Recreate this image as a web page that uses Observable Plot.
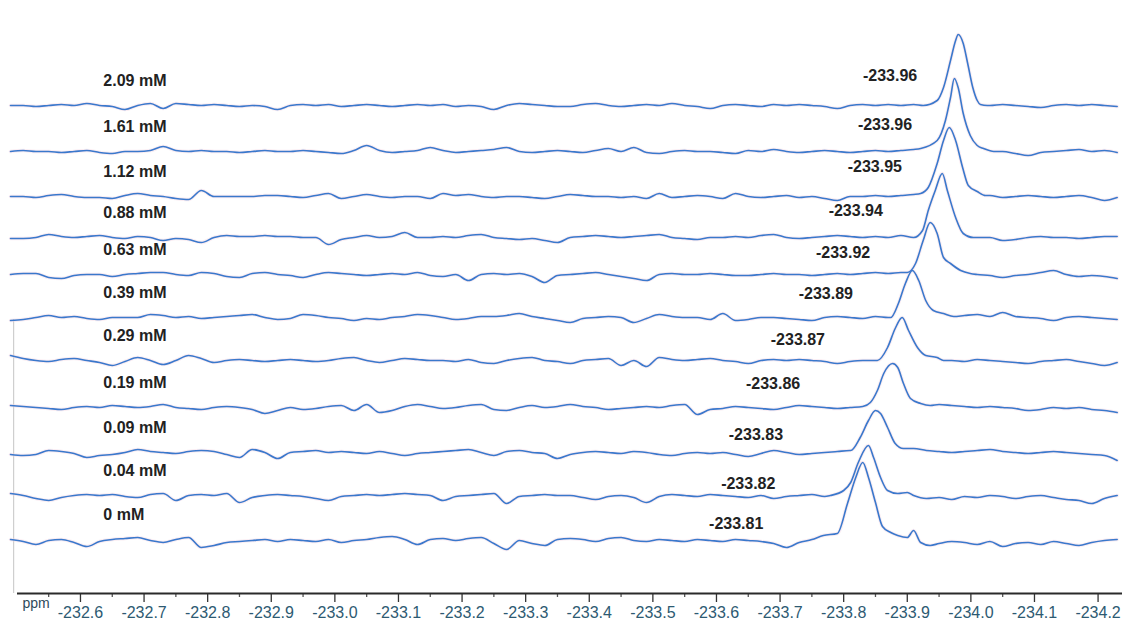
<!DOCTYPE html>
<html>
<head>
<meta charset="utf-8">
<script src="https://cdn.jsdelivr.net/npm/d3@7"></script>
<script src="https://cdn.jsdelivr.net/npm/@observablehq/plot@0.6"></script>
<style>
  html, body { margin: 0; padding: 0; background: #ffffff; }
  #chart svg { display: block; }
</style>
</head>
<body>
<div id="chart"></div>
<script>
// ---- Data -------------------------------------------------------------
const concentrations = ["2.09 mM","1.61 mM","1.12 mM","0.88 mM","0.63 mM","0.39 mM","0.29 mM","0.19 mM","0.09 mM","0.04 mM","0 mM"];
const peakShifts = ["-233.96","-233.96","-233.95","-233.94","-233.92","-233.89","-233.87","-233.86","-233.83","-233.82","-233.81"];
// vertical stacking offset of each spectrum (intensity units)
const stackOffset = [434, 388, 343, 302, 265, 222, 179, 132, 87, 44, 0];
// tick labels of the ppm axis
const majorTicks = [-232.6,-232.7,-232.8,-232.9,-233.0,-233.1,-233.2,-233.3,-233.4,-233.5,-233.6,-233.7,-233.8,-233.9,-234.0,-234.1,-234.2];

// baseline samples on a regular ppm grid (start -232.49, step -0.02), 88 points each
const gridStart = -232.49, gridStep = -0.02;
const noise209 = [0,0,-1,0,1,0,2,0,-1,-4, 0,2,-3,2,1,0,1,0,-1,0, -1,-4,0,1,0,1,-1,0,1,0, -1,0,1,0,1,-1,0,-1,-4,0, 2,1,0,-1,-1,1,2,0,-1,0, 1,0,2,0,-1,-3,0,1,0,-1, 1,0,1,0,-1,-3,0,1,0,1, 0,1,1,0,0,0,0,0,1,0, -1,-2,0,1,0,1,0,-1];
const noise161 = [0,1,0,0,-1,0,1,-1,-2,0, 0,1,5,1,0,1,0,0,-1,0, 1,0,0,1,0,-1,-2,1,6,1, -1,0,1,4,1,-1,0,1,2,4, 0,-1,0,1,0,-1,1,3,0,4, -1,-2,0,1,0,0,-1,-2,1,0, 2,0,-1,0,1,0,-1,0,1,0, 1,2,0,0,0,0,0,0,0,-2, -4,-1,0,1,2,0,1,-1];
const noise112 = [0,0,-1,1,2,0,-1,-1,-2,1, 3,1,0,-2,-3,6,0,0,0,0, 1,1,0,-1,1,3,-2,0,2,0, -1,0,0,-2,3,1,2,0,-1,0, 0,-1,-2,0,2,1,0,0,-1,0, -2,3,-1,0,1,0,-2,3,0,-1, 0,1,-1,0,-2,-4,0,0,1,0, 1,2,0,0,0,0,0,1,-1,0, 1,0,-1,0,1,-1,-4,-1];
const noise088 = [-1,-1,0,3,1,0,1,2,0,-1, 1,0,-3,-1,-2,-5,0,2,1,1, 2,1,1,0,0,-7,-2,0,2,0, 1,5,0,0,1,0,2,3,0,-1, -2,-1,-3,-5,0,1,2,1,0,1, 2,3,0,-1,-2,0,0,1,0,2, 3,0,-1,0,1,2,1,0,1,0, 2,0,0,0,0,0,0,0,-3,-2, 0,1,0,0,-1,0,1,1];
const noise063 = [0,1,1,-3,-4,-1,0,0,-2,0, 1,2,2,0,-1,2,1,-2,-3,1, 2,0,-1,-3,0,2,1,0,-1,0, 1,0,2,-1,-2,0,-6,0,1,0, 1,-2,-8,-1,0,1,2,0,-2,-4, -6,0,1,0,0,1,0,-1,-1,0, 1,0,0,-1,0,1,0,1,2,1, 2,0,0,0,0,0,0,-1,-3,-1, 0,2,4,0,-2,-1,-2,-4];
const noise039 = [-3,-2,0,2,0,1,-1,-2,0,0, 0,3,2,0,1,-1,0,1,2,3, 0,-2,-1,3,2,0,-1,-3,-1,-2, 0,1,3,2,0,-2,-1,1,1,2, 4,1,-1,-3,-5,-1,0,1,0,-5, -1,3,1,0,0,-2,4,-3,-2,0, 0,-1,-2,-3,0,1,0,-1,1,0, 0,0,0,0,0,2,3,1,5,1, 0,-1,-3,0,1,0,-1,-2];
const noise029 = [5,2,0,-1,1,2,0,-2,-5,-1, 3,0,-4,0,5,2,-2,0,1,0, -1,0,1,0,-1,0,2,3,0,-2, 0,2,1,0,0,-1,1,-2,-3,0, 2,3,0,-1,-3,0,1,2,-5,0, -6,3,1,0,1,2,0,-1,-3,0, 1,0,1,0,-1,-3,-1,0,0,0, 0,0,0,0,0,-1,1,0,-1,-2, -3,-1,0,1,-1,-3,-5,-2];
const noise019 = [2,1,0,-1,-2,0,1,0,2,1, 0,1,3,0,-1,-2,0,1,0,-2, -6,-3,0,-2,-1,1,2,-3,3,-5, -3,1,3,1,-1,0,2,3,-2,-3, 0,2,0,1,3,1,0,-2,-1,0, 1,0,2,3,-7,-2,-1,1,0,-1, -2,0,2,1,0,-1,0,1,0,0, 0,0,0,3,2,1,0,1,0,-1, -3,-2,0,-1,0,-2,-3,-5];
const noise009 = [-2,-3,-2,2,1,-1,-5,-3,-2,0, 3,1,0,-1,1,2,1,-2,-5,3, 0,-6,0,1,2,0,1,0,-1,1, -1,-3,-1,0,1,2,3,0,-3,1, 2,0,-1,-6,-2,0,1,0,-1,1, 0,-2,-3,-1,0,-1,0,-2,-4,-1, 2,0,-2,-1,0,1,2,0,0,0, 0,0,2,1,0,1,2,3,1,0, -1,0,1,0,-1,-2,-3,-8];
const noise004 = [2,0,-3,-5,-2,0,1,0,1,-1, -2,1,2,-5,0,1,0,2,-7,-2, 0,1,0,-1,-3,-5,-1,0,1,0, 1,2,1,0,-5,-1,0,1,2,-8, -1,0,1,0,0,-2,-4,-1,0,-2, -7,-1,1,0,-1,1,0,-1,-2,0, -3,-1,0,1,-1,0,0,0,0,0, 0,0,-3,-2,-4,-1,-2,0,-1,-3, -1,0,-2,-4,-5,-8,-3,0];
const noise000 = [0,-2,-5,-1,0,-3,-7,-2,0,1, 2,-1,-3,0,2,-8,-6,-3,-2,-1, 0,-2,0,-1,-2,0,-3,-1,0,2, 3,0,-5,0,1,-1,1,2,-4,-10, -1,-4,-6,0,1,0,-2,1,2,-1, -2,0,-1,-2,0,-1,-2,0,-1,-2, -4,-8,-3,0,0,0,0,0,0,0, 0,0,0,-4,-2,-3,-5,-2,-7,-4, -3,-5,-2,-4,-6,-3,-1,0];

// peak profiles: [ppm, intensity]
const peak209 = [[-233.925,0],[-233.947,5],[-233.957,18],[-233.968,45],[-233.976,65],[-233.980,71],[-233.988,62],[-233.995,42],[-234.003,18],[-234.010,5],[-234.015,1],[-234.026,0]];
const peak161 = [[-233.921,3],[-233.947,11],[-233.960,31],[-233.968,54],[-233.974,73],[-233.980,64],[-233.988,38],[-233.999,16],[-234.010,6],[-234.020,3],[-234.036,0]];
const peak112 = [[-233.921,3],[-233.933,9],[-233.947,33],[-233.957,56],[-233.966,69],[-233.976,56],[-233.987,29],[-233.996,11],[-234.010,5],[-234.023,1]];
const peak088 = [[-233.910,0],[-233.924,7],[-233.933,27],[-233.944,47],[-233.955,64],[-233.963,47],[-233.976,20],[-233.988,4],[-234.004,0]];
const peak063 = [[-233.900,2],[-233.913,11],[-233.925,34],[-233.936,52],[-233.947,41],[-233.957,17],[-233.968,11],[-233.984,4],[-233.999,1]];
const peak039 = [[-233.874,0],[-233.886,14],[-233.897,34],[-233.908,47],[-233.918,37],[-233.929,17],[-233.941,7],[-233.957,4],[-233.973,1]];
const peak029 = [[-233.853,0],[-233.869,13],[-233.881,32],[-233.892,43],[-233.902,30],[-233.916,13],[-233.929,5],[-233.947,3],[-233.957,0]];
const peak019 = [[-233.842,5],[-233.853,17],[-233.863,34],[-233.877,44],[-233.885,40],[-233.894,24],[-233.905,9],[-233.921,4],[-233.936,2]];
const peak009 = [[-233.811,2],[-233.826,15],[-233.839,32],[-233.850,42],[-233.858,39],[-233.869,25],[-233.881,9],[-233.894,4],[-233.910,4]];
const peak004 = [[-233.779,0],[-233.800,5],[-233.811,13],[-233.823,33],[-233.839,50],[-233.847,38],[-233.858,18],[-233.869,5],[-233.885,2],[-233.900,3],[-233.910,0]];
const peak000 = [[-233.768,4],[-233.790,6],[-233.806,36],[-233.819,62],[-233.830,77],[-233.839,62],[-233.850,37],[-233.861,13],[-233.874,7],[-233.885,4],[-233.900,2],[-233.910,9],[-233.921,-3],[-233.936,-6]];

// annotation anchors (data units)
const concLabelPpm = -232.636;
const concLabelRise = 25;
const peakLabelPpm = [-233.873,-233.865,-233.849,-233.819,-233.799,-233.772,-233.728,-233.689,-233.662,-233.650,-233.631];
const peakLabelRise = [30,27,30,27,22,24,21,24,18,12,16];

// ---- Build tables -----------------------------------------------------
const noise = [noise209,noise161,noise112,noise088,noise063,noise039,noise029,noise019,noise009,noise004,noise000];
const peaks = [peak209,peak161,peak112,peak088,peak063,peak039,peak029,peak019,peak009,peak004,peak000];

const rows = [];
concentrations.forEach((c, k) => {
  const pk = peaks[k];
  const hi = pk[0][0], lo = pk[pk.length - 1][0];
  const pts = [];
  noise[k].forEach((v, i) => {
    const ppm = +(gridStart + i * gridStep).toFixed(4);
    if (ppm <= hi && ppm >= lo) return;
    pts.push([ppm, v]);
  });
  pk.forEach(p => pts.push(p));
  pts.sort((a, b) => b[0] - a[0]);
  pts.forEach(([ppm, v]) => rows.push({trace: c, ppm, y: stackOffset[k] + v}));
});

const concLabels = concentrations.map((c, k) => ({text: c, y: stackOffset[k] + concLabelRise}));
const shiftLabels = peakShifts.map((s, k) => ({text: s, x: peakLabelPpm[k], y: stackOffset[k] + peakLabelRise[k]}));
const minorTicks = d3.range(16).map(i => +(-232.55 - i * 0.1).toFixed(2));

const xDomain = [-232.501, -234.2384];
const edgePpm = -232.495;
const yBottom = -54;      // axis line level (1 intensity unit = 1 px)
const majorLen = 9, minorLen = 4;

const chart = Plot.plot({
  width: 1122,
  height: 619,
  marginTop: 0,
  marginRight: 0,
  marginBottom: 26,
  marginLeft: 17,
  x: {domain: xDomain, label: null},
  y: {domain: [yBottom, 539], axis: null},
  style: {fontFamily: "'Liberation Sans', Arial, sans-serif", background: "#ffffff", overflow: "visible"},
  marks: [
    Plot.ruleX([edgePpm], {y1: yBottom, y2: 220, stroke: "#c6c6c6", strokeWidth: 1}),
    Plot.ruleX(minorTicks, {y1: yBottom, y2: yBottom - minorLen, stroke: "#555", strokeWidth: 1.3}),
    Plot.ruleX(majorTicks, {y1: yBottom, y2: yBottom - majorLen, stroke: "#333", strokeWidth: 1.3}),
    Plot.axisX(majorTicks, {tickSize: 0, tickPadding: 13, tickFormat: d => d.toFixed(1), fontSize: 16, fill: "#2d5a72", label: null}),
    Plot.text(["ppm"], {frameAnchor: "bottom-left", dx: 5, dy: 14, textAnchor: "start", fontSize: 14, fill: "#2d4a5a"}),
    Plot.line(rows, {x: "ppm", y: "y", z: "trace", curve: "monotone-x", stroke: "#f6dbe6", strokeWidth: 3.5, strokeOpacity: 0.5}),
    Plot.line(rows, {x: "ppm", y: "y", z: "trace", curve: "monotone-x", stroke: "#3a78cc", strokeWidth: 1.6}),
    Plot.text(concLabels, {x: concLabelPpm, y: "y", text: "text", textAnchor: "start", fontWeight: "bold", fontSize: 16, fill: "#222"}),
    Plot.text(shiftLabels, {x: "x", y: "y", text: "text", textAnchor: "middle", fontWeight: "bold", fontSize: 16, fill: "#222"}),
    Plot.ruleY([yBottom], {stroke: "#2a2a2a", strokeWidth: 2})
  ]
});
document.getElementById("chart").appendChild(chart);
</script>
</body>
</html>
